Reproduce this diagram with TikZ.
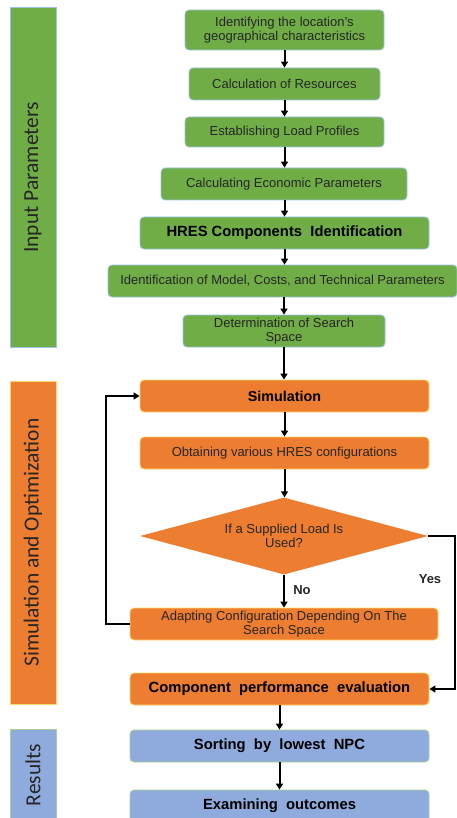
\documentclass[tikz,border=0pt]{standalone}
\usepackage{fontspec}
\setmainfont{Liberation Sans}
\newfontfamily\sidefont{Carlito}
\usetikzlibrary{shapes.geometric, arrows.meta}

\definecolor{ingreen}{HTML}{70AD47}
\definecolor{inedge}{HTML}{9DC3E6}
\definecolor{simorange}{HTML}{ED7D31}
\definecolor{simedge}{HTML}{FFD966}
\definecolor{resblue}{HTML}{8FAADC}
\definecolor{resedge}{HTML}{A9D18E}
\definecolor{boxtext}{HTML}{262626}

\begin{document}
\begin{tikzpicture}[x=1pt, y=-1pt, >={Triangle[length=6pt, width=7pt]},
  flowbox/.style={rounded corners=4pt, line width=0.8pt, align=center,
    inner sep=0pt, text=boxtext, font=\fontsize{13}{14.5}\selectfont},
  greenbox/.style={flowbox, draw=inedge, fill=ingreen},
  orangebox/.style={flowbox, draw=simedge, fill=simorange},
  bluebox/.style={flowbox, draw=resedge, fill=resblue},
  boldtext/.style={font=\fontsize{14.8}{16}\selectfont\bfseries, text=black},
  sidebar/.style={rotate=90, line width=1pt, inner sep=0pt, text=boxtext,
    font=\fontsize{21.5}{23}\selectfont\sidefont},
  flow/.style={->, line width=2pt},
  answer/.style={font=\fontsize{13}{15}\selectfont\bfseries, text=boxtext}]
  \useasboundingbox (0,0) rectangle (457,818);

  % side bars
  \node[sidebar, draw=inedge, fill=ingreen, minimum width=339pt, minimum height=46pt]
    (inputbar) at (33,177.5) {Input Parameters};
  \node[sidebar, draw=simedge, fill=simorange, minimum width=323pt, minimum height=46pt]
    (simbar) at (33,542.5) {Simulation and Optimization};
  \node[sidebar, draw=resedge, fill=resblue, minimum width=92pt, minimum height=46pt]
    (resbar) at (33,775) {Results};

  % input parameters
  \node[greenbox, minimum width=199pt, minimum height=40pt] (geo) at (284.5,30)
    {Identifying the location's\\geographical characteristics};
  \node[greenbox, minimum width=191pt, minimum height=32pt] (resources) at (284.5,84)
    {Calculation of Resources};
  \node[greenbox, minimum width=199pt, minimum height=30pt] (load) at (284.5,132)
    {Establishing Load Profiles};
  \node[greenbox, minimum width=246pt, minimum height=32pt] (econ) at (284,184)
    {Calculating Economic Parameters};
  \node[greenbox, boldtext, minimum width=289pt, minimum height=32pt] (hres) at (284.5,233)
    {HRES Components~~Identification};
  \node[greenbox, minimum width=349pt, minimum height=32pt] (model) at (282.5,281)
    {Identification of Model, Costs, and Technical Parameters};
  \node[greenbox, minimum width=202pt, minimum height=32pt] (space) at (284,331)
    {Determination of Search\\Space};

  % simulation and optimization
  \node[orangebox, boldtext, font=\fontsize{14.3}{16}\selectfont\bfseries,
    minimum width=289pt, minimum height=32pt] (sim) at (284.5,396) {Simulation};
  \node[orangebox, minimum width=289pt, minimum height=32pt] (configs) at (284.5,453)
    {Obtaining various HRES configurations};
  \node[shape=diamond, aspect=3.74, fill=simorange, text=boxtext, align=center,
    inner sep=0pt, minimum width=288pt, minimum height=77pt,
    font=\fontsize{13}{14.5}\selectfont]
    (query) at (284,536) {If a Supplied Load Is\\Used?};
  \node[orangebox, minimum width=308pt, minimum height=32pt] (adapt) at (284,624)
    {Adapting Configuration Depending On The\\Search Space};
  \node[orangebox, boldtext, minimum width=299pt, minimum height=32pt] (perf) at (279.5,689)
    {Component~ performance~ evaluation};

  % results
  \node[bluebox, boldtext, minimum width=299pt, minimum height=32pt] (sorting) at (279.5,746)
    {Sorting~ by~ lowest~ NPC};
  \node[bluebox, boldtext, minimum width=299pt, minimum height=32pt] (outcomes) at (279.5,806)
    {Examining~ outcomes};

  % connectors
  \draw[flow] (geo) -- (resources);
  \draw[flow] (resources) -- (load);
  \draw[flow] (load) -- (load |- econ.north);
  \draw[flow] (load |- econ.south) -- (load |- hres.north);
  \draw[flow] (hres) -- (hres |- model.north);
  \draw[flow] (space |- model.south) -- (space);
  \draw[flow] (space) -- (space |- sim.north);
  \draw[flow] (sim) -- (configs);
  \draw[flow] (configs) -- (configs |- query.north);
  \draw[flow] (query) -- (query |- adapt.north);
  \node[answer] (no) at (302,590) {No};
  \draw[flow] (adapt.west) -- ++(-24,0) |- (sim.west);
  \draw[flow] (query.east) -- ++(27,0) |- (perf.east);
  \node[answer] (yes) at (430,579) {Yes};
  \draw[flow] (perf) -- (sorting);
  \draw[flow] (sorting) -- (outcomes);
\end{tikzpicture}
\end{document}
